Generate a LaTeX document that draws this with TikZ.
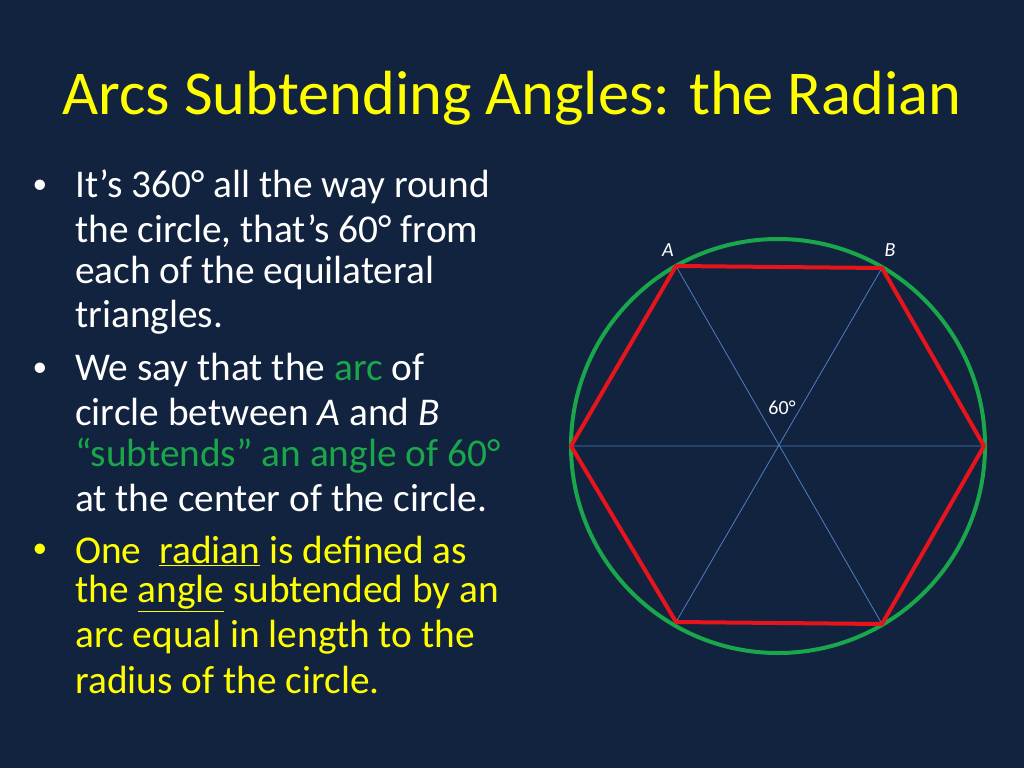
\documentclass[tikz,border=0pt]{standalone}
\usepackage{fontspec}
\setmainfont{Carlito}
\definecolor{bg}{HTML}{12233F}
\definecolor{ttl}{HTML}{FFFF00}
\definecolor{grn}{HTML}{1AA64A}
\definecolor{rd}{HTML}{E8141B}
\definecolor{thinblue}{HTML}{4F7FC0}
\begin{document}
\begin{tikzpicture}[x=0.75pt,y=-0.75pt,
  body/.style={anchor=west,inner sep=0pt,font=\fontsize{29.5}{34}\selectfont,text=white},
  lab/.style={inner sep=0pt,font=\fontsize{15}{18}\selectfont,text=white}]
\fill[bg] (0,0) rectangle (1024,768);
\useasboundingbox (0,0) rectangle (1024,768);
\node[anchor=center,inner sep=0pt,text=ttl,font=\fontsize{46.8}{52}\selectfont] (title) at (512,98) {Arcs Subtending Angles: the Radian};
% bullets
\foreach \y/\c in {187/white,370/white,551/ttl}
  \node[inner sep=0pt,text=\c,font=\fontsize{22}{24}\selectfont] at (40,\y) {•};
\node[body] (l1) at (75,187) {It’s 360° all the way round};
\node[body] (l2) at (75,231) {the circle, that’s 60° from};
\node[body] (l3) at (75,273) {each of the equilateral};
\node[body] (l4) at (75,317) {triangles.};
\node[body] (l5) at (75,370) {We say that the \textcolor{grn}{arc} of};
\node[body] (l6) at (75,412) {circle between \textit{A} and \textit{B}};
\node[body,text=grn] (l7) at (75,456) {“subtends” an angle of 60°};
\node[body] (l8) at (75,498) {at the center of the circle.};
\node[body,text=ttl] (l9) at (75,551) {\color{ttl}One\ \ \underline{radian} is defined as};
\node[body,text=ttl] (l10) at (75,594) {\color{ttl}the \underline{angle} subtended by an};
\node[body,text=ttl] (l11) at (75,637) {arc equal in length to the};
\node[body,text=ttl] (l12) at (75,680) {radius of the circle.};
% geometry
\coordinate (O) at (778,446);
\coordinate (A) at (676,266);
\coordinate (B) at (882,268);
\coordinate (R) at (984,446);
\coordinate (C) at (882,624);
\coordinate (D) at (676,622);
\coordinate (L) at (571,446);
\draw[thinblue,line width=0.6pt] (A)--(C) (B)--(D) (L)--(R);
\draw[grn,line width=3pt] (O) circle[radius=207];
\draw[rd,line width=3pt,line join=round] (A)--(B)--(R)--(C)--(D)--(L)--cycle;
\node[lab] (la) at (668,250) {\textit{A}};
\node[lab] (lb) at (890,250) {\textit{B}};
\node[lab] (l60) at (782,408) {60°};
\end{tikzpicture}
\end{document}
